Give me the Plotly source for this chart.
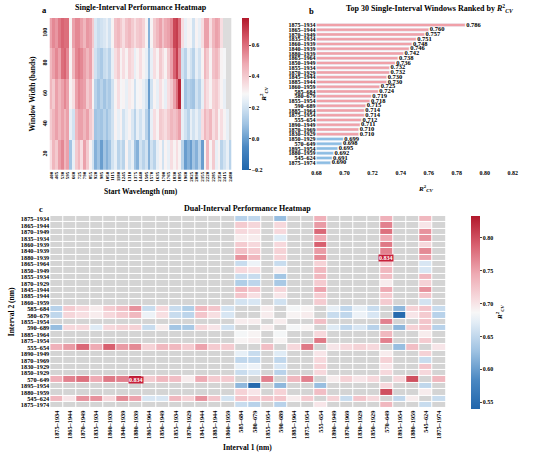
import plotly.graph_objects as go

# ---------------- panel a : single-interval scan ----------------
start_wl = [400 + 32.5 * i for i in range(65)]  # column start wavelengths (nm)
tick_wl = [400, 465, 530, 595, 660, 725, 790, 855, 920, 985, 1050, 1115, 1180, 1245, 1310, 1375,
           1440, 1505, 1570, 1635, 1700, 1765, 1830, 1895, 1960, 2025, 2090, 2155, 2220, 2285,
           2350, 2415, 2480]
widths = ["20", "40", "60", "80", "100"]

r2_w20 = [0.35, 0.45, 0.40, 0.50, 0.55, 0.45, 0.50, 0.10, 0.25, 0.40, 0.45, 0.35, 0.50, 0.40, 0.30, 0.20,
          0.05, 0.10, 0.00, 0.10, 0.05, 0.10, 0.20, 0.25, 0.15, 0.20, 0.15, 0.30, 0.20, 0.25, 0.10, 0.05,
          0.20, 0.15, 0.20, 0.05, 0.20, 0.15, 0.25, 0.30, 0.20, 0.30, 0.25, 0.35, 0.30, 0.35, 0.30, 0.15,
          0.00, 0.05, 0.00, 0.10, 0.05, 0.15, 0.00, 0.30, 0.45, 0.30, 0.40, 0.25, 0.30, 0.15, 0.20, 0.25,
          0.15]
r2_w40 = [0.40, 0.45, 0.50, 0.45, 0.50, 0.45, 0.50, 0.25, 0.20, 0.45, 0.50, 0.50, 0.45, 0.50, 0.40, 0.35,
          0.10, 0.12, 0.10, 0.15, 0.10, 0.15, 0.20, 0.30, 0.25, 0.30, 0.20, 0.25, 0.30, 0.22, 0.15, 0.25,
          0.20, 0.25, 0.15, 0.05, 0.25, 0.35, 0.30, 0.40, 0.38, 0.35, 0.40, 0.45, 0.42, 0.45, 0.50, 0.25,
          0.20, 0.15, 0.25, 0.20, 0.25, 0.20, 0.35, 0.45, 0.40, 0.45, 0.35, 0.40, 0.30, 0.35, 0.30, 0.25,
          None]
r2_w60 = [0.45, 0.40, 0.50, 0.45, 0.50, 0.55, 0.50, 0.30, 0.35, 0.50, 0.55, 0.52, 0.50, 0.40, 0.45, 0.30,
          0.15, 0.10, 0.15, 0.10, 0.15, 0.12, 0.20, 0.30, 0.35, 0.28, 0.30, 0.25, 0.32, 0.30, 0.20, 0.28,
          0.30, 0.25, 0.20, 0.00, 0.20, 0.30, 0.25, 0.35, 0.30, 0.25, 0.35, 0.40, 0.50, 0.60, 0.75, 0.25,
          0.10, 0.15, 0.12, 0.10, 0.20, 0.15, 0.25, 0.40, 0.35, 0.30, 0.38, 0.40, 0.35, 0.30, 0.25, None,
          None]
r2_w80 = [0.45, 0.50, 0.55, 0.50, 0.60, 0.62, 0.55, 0.30, 0.45, 0.55, 0.58, 0.55, 0.50, 0.45, 0.50, 0.35,
          0.20, 0.15, 0.12, 0.18, 0.20, 0.15, 0.25, 0.35, 0.40, 0.30, 0.35, 0.30, 0.38, 0.35, 0.25, 0.30,
          0.35, 0.30, 0.25, 0.10, 0.25, 0.35, 0.30, 0.40, 0.35, 0.30, 0.40, 0.50, 0.62, 0.70, 0.55, 0.20,
          0.15, 0.25, 0.20, 0.15, 0.25, 0.20, 0.30, 0.45, 0.40, 0.30, 0.42, 0.45, 0.40, 0.30, 0.28, None,
          None]
r2_w100 = [0.50, 0.55, 0.52, 0.58, 0.62, 0.60, 0.60, 0.30, 0.50, 0.55, 0.55, 0.50, 0.45, 0.52, 0.50, 0.40,
           0.22, 0.18, 0.20, 0.22, 0.25, 0.20, 0.30, 0.42, 0.45, 0.40, 0.35, 0.42, 0.45, 0.40, 0.35, 0.40,
           0.42, 0.38, 0.30, 0.05, 0.30, 0.40, 0.45, 0.50, 0.42, 0.48, 0.50, 0.55, 0.68, 0.70, 0.60, 0.35,
           0.25, 0.30, 0.28, 0.20, 0.30, 0.25, 0.35, 0.50, 0.50, 0.35, 0.45, 0.50, 0.48, 0.35, None, None,
           None]

# ---------------- panel b : top 30 windows ----------------
windows = ["1875–1934", "1865–1944", "1870–1949", "1835–1934", "1860–1939", "1840–1939",
           "1880–1939", "1865–1964", "1850–1949", "1855–1934", "1870–1929", "1845–1944",
           "1885–1944", "1860–1959", "585–684", "580–679", "1855–1954", "590–689",
           "1885–1964", "1875–1954", "555–654", "1890–1949", "1870–1969", "1830–1929",
           "1850–1929", "570–649", "1895–1954", "1880–1959", "545–624", "1875–1974"]
r2_cv = [0.786, 0.760, 0.757, 0.751, 0.748, 0.746, 0.742, 0.738, 0.736, 0.732, 0.732, 0.730,
         0.730, 0.725, 0.724, 0.719, 0.718, 0.715, 0.714, 0.714, 0.712, 0.711, 0.710, 0.710,
         0.699, 0.698, 0.695, 0.692, 0.691, 0.690]

# ---------------- panel c : dual-interval combinations ----------------
dual_cols = ["585–684", "580–679", "590–689", "555–654", "570–649", "545–624"]
dual_rows = ["1875–1934", "1865–1944", "1870–1949", "1835–1934", "1860–1939", "1840–1939",
             "1880–1939", "1865–1964", "1850–1949", "1855–1934", "1870–1929", "1845–1944",
             "1885–1944", "1860–1959", "1855–1954", "1885–1964", "1875–1954", "1890–1949",
             "1870–1969", "1830–1929", "1850–1929", "1895–1954", "1880–1959", "1875–1974"]
dual_r2 = [
    [0.645, 0.650, 0.625, 0.740, 0.740, 0.735],
    [0.720, 0.712, 0.710, 0.755, 0.770, 0.700],
    [0.710, 0.705, 0.710, 0.785, 0.780, 0.760],
    [0.695, 0.695, 0.670, 0.745, 0.745, 0.760],
    [0.720, 0.710, 0.710, 0.790, 0.775, 0.710],
    [0.730, 0.720, 0.715, 0.755, 0.770, 0.765],
    [0.760, 0.735, 0.715, 0.765, 0.834, 0.750],
    [0.655, 0.680, 0.655, 0.715, 0.720, 0.665],
    [0.710, 0.705, 0.695, 0.735, 0.735, 0.665],
    [0.655, 0.655, 0.632, 0.735, 0.730, 0.735],
    [0.640, 0.648, 0.635, 0.720, 0.695, 0.715],
    [0.735, 0.725, 0.712, 0.750, 0.745, 0.760],
    [0.725, 0.705, 0.700, 0.720, 0.720, 0.725],
    [0.662, 0.665, 0.660, 0.720, 0.720, 0.662],
    [0.695, 0.695, 0.695, 0.730, 0.770, 0.725],
    [0.685, 0.690, 0.685, 0.710, 0.735, 0.695],
    [0.690, 0.695, 0.690, 0.775, 0.770, 0.720],
    [0.675, 0.655, 0.670, 0.700, 0.695, 0.715],
    [0.650, 0.650, 0.650, 0.710, 0.715, 0.655],
    [0.675, 0.680, 0.665, 0.715, 0.700, 0.725],
    [0.655, 0.665, 0.645, 0.710, 0.710, 0.710],
    [0.620, 0.545, 0.620, 0.625, 0.710, 0.650],
    [0.715, 0.700, 0.715, 0.730, 0.800, 0.695],
    [0.655, 0.645, 0.645, 0.700, 0.735, 0.655],
]
cross_pairs = [("545–624", "585–684", 0.725), ("545–624", "580–679", 0.720), ("545–624", "590–689", 0.725)]

# ---------------- build matrices ----------------
z_a = [r2_w20, r2_w40, r2_w60, r2_w80, r2_w100]
mask_a = [[1 if v is None else None for v in row] for row in z_a]

n = len(windows)
pos = {w: i for i, w in enumerate(windows)}
z_c = [[None] * n for _ in range(n)]
for r, row in zip(dual_rows, dual_r2):
    for c, v in zip(dual_cols, row):
        z_c[pos[r]][pos[c]] = v
        z_c[pos[c]][pos[r]] = v
for a, b, v in cross_pairs:
    z_c[pos[a]][pos[b]] = v
    z_c[pos[b]][pos[a]] = v
mask_c = [[1 if v is None else None for v in row] for row in z_c]

rdbu = [[0.0, "#2166ac"], [0.15, "#4a88c2"], [0.3, "#9ec2e2"], [0.45, "#e3edf6"], [0.5, "#f7f7f7"],
        [0.56, "#f7dfe2"], [0.7, "#eeaab3"], [0.85, "#d8606f"], [1.0, "#b2182b"]]
FONT = "Liberation Serif"
R2 = "<i>R</i><sup>2</sup><sub><i>CV</i></sub>"

fig = go.Figure()

# panel a
fig.add_trace(go.Heatmap(x=start_wl, y=widths, z=mask_a, colorscale=[[0, "#dcdcdc"], [1, "#dcdcdc"]],
                         showscale=False, hoverinfo="skip", xaxis="x", yaxis="y"))
fig.add_trace(go.Heatmap(x=start_wl, y=widths, z=z_a, colorscale=rdbu, zmin=-0.2, zmax=0.775,
                         xaxis="x", yaxis="y",
                         colorbar=dict(x=240 / 550, xanchor="left", y=1 - 93 / 454, yanchor="middle",
                                       len=152 / 454, thickness=7, outlinewidth=0, xpad=0, ypad=0,
                                       tickvals=[-0.2, 0.0, 0.2, 0.4, 0.6],
                                       ticktext=["−0.2", "0.0", "0.2", "0.4", "0.6"],
                                       ticks="outside", ticklen=2, tickfont=dict(size=6),
                                       title=dict(text=R2, side="right", font=dict(size=7)))))

# panel b
bar_colors = ["#f0a0a8" if v >= 0.70 else "#8cbde3" for v in r2_cv]
fig.add_trace(go.Bar(x=r2_cv, y=windows, orientation="h", marker_color=bar_colors, width=0.65,
                     xaxis="x2", yaxis="y2", showlegend=False))
fig.add_trace(go.Scatter(x=[v + 0.0008 for v in r2_cv], y=windows, mode="text",
                         text=[f"{v:.3f}" for v in r2_cv], textposition="middle right",
                         textfont=dict(size=6.5), cliponaxis=False, xaxis="x2", yaxis="y2",
                         showlegend=False))

# panel c
fig.add_trace(go.Heatmap(x=windows, y=windows, z=mask_c, colorscale=[[0, "#d4d4d4"], [1, "#d4d4d4"]],
                         showscale=False, xgap=1, ygap=1, hoverinfo="skip", xaxis="x3", yaxis="y3"))
fig.add_trace(go.Heatmap(x=windows, y=windows, z=z_c, colorscale=rdbu, zmin=0.54, zmax=0.834,
                         xgap=1, ygap=1, xaxis="x3", yaxis="y3",
                         colorbar=dict(x=471 / 550, xanchor="left", y=1 - 311.8 / 454, yanchor="middle",
                                       len=193 / 454, thickness=9, outlinewidth=0, xpad=0, ypad=0,
                                       tickvals=[0.55, 0.60, 0.65, 0.70, 0.75, 0.80],
                                       ticktext=["0.55", "0.60", "0.65", "0.70", "0.75", "0.80"],
                                       ticks="outside", ticklen=2, tickfont=dict(size=6),
                                       title=dict(text=R2, side="right", font=dict(size=7)))))

# mark the best combination
best = max(v for row in z_c for v in row if v is not None)
for i in range(n):
    for j in range(n):
        if z_c[i][j] == best:
            fig.add_annotation(x=windows[j], y=windows[i], xref="x3", yref="y3", text=f"{best:.3f}",
                               showarrow=False, bgcolor="#c8203a", borderpad=0,
                               font=dict(size=6, color="white"))

axis_common = dict(showgrid=False, zeroline=False, showline=False, ticks="")
fig.update_layout(
    width=550, height=454, margin=dict(l=0, r=0, t=0, b=0),
    paper_bgcolor="white", plot_bgcolor="white", showlegend=False,
    font=dict(family=FONT, color="black", size=7, weight="bold"),
    xaxis=dict(domain=[45 / 550, 229 / 550], range=[383.75, 2496.25], tickvals=tick_wl,
               ticktext=[str(t) for t in tick_wl], tickangle=-90, tickfont=dict(size=5),
               anchor="y", **axis_common),
    yaxis=dict(domain=[1 - 169 / 454, 1 - 17 / 454], type="category", tickangle=-90,
               tickfont=dict(size=6), anchor="x", **axis_common),
    xaxis2=dict(domain=[315 / 550, 536 / 550], range=[0.68, 0.836],
                tickvals=[0.68, 0.70, 0.72, 0.74, 0.76, 0.78, 0.80, 0.82],
                ticktext=["0.68", "0.70", "0.72", "0.74", "0.76", "0.78", "0.80", "0.82"],
                tickfont=dict(size=6), anchor="y2", **axis_common),
    yaxis2=dict(domain=[1 - 167.8 / 454, 1 - 18.3 / 454], type="category", categoryorder="array",
                categoryarray=windows, range=[30.2, -1.2], tickmode="array", tickvals=windows,
                tickfont=dict(size=6), anchor="x2", **axis_common),
    xaxis3=dict(domain=[45.7 / 550, 445.7 / 550], type="category", tickangle=-90, tickfont=dict(size=6.3),
                tickmode="array", tickvals=windows, anchor="y3", **axis_common),
    yaxis3=dict(domain=[1 - 408.3 / 454, 1 - 215.4 / 454], type="category", autorange="reversed",
                tickmode="array", tickvals=windows, tickfont=dict(size=6.3),
                anchor="x3", **axis_common),
)

# titles, axis titles and panel letters: (text, x px, y px, size, angle)
labels = [
    ("Single-Interval Performance Heatmap", 137, 7, 8, 0),
    ("Top 30 Single-Interval Windows Ranked by " + R2, 430, 8, 8, 0),
    ("Dual-Interval Performance Heatmap", 245, 208, 8, 0),
    ("a", 40, 9, 8.5, 0),
    ("b", 310, 10, 8.5, 0),
    ("c", 36, 208, 8.5, 0),
    ("Start Wavelength (nm)", 137, 191, 7.5, 0),
    ("Window Width (bands)", 28, 93, 7.5, -90),
    (R2, 425, 188, 7, 0),
    ("Interval 1 (nm)", 245, 447, 7.5, 0),
    ("Interval 2 (nm)", 6, 311, 7.5, -90),
]
for text, px, py, size, ang in labels:
    fig.add_annotation(x=px / 550, y=1 - py / 454, xref="paper", yref="paper", text=text,
                       showarrow=False, xanchor="center", yanchor="middle", textangle=ang,
                       font=dict(size=size))

# the page body has a default 8px margin; drop it so the figure fills the window
fig.write_html("out.html", config={"displayModeBar": False},
               post_script="document.body.style.margin='0';document.body.style.overflow='hidden';")
